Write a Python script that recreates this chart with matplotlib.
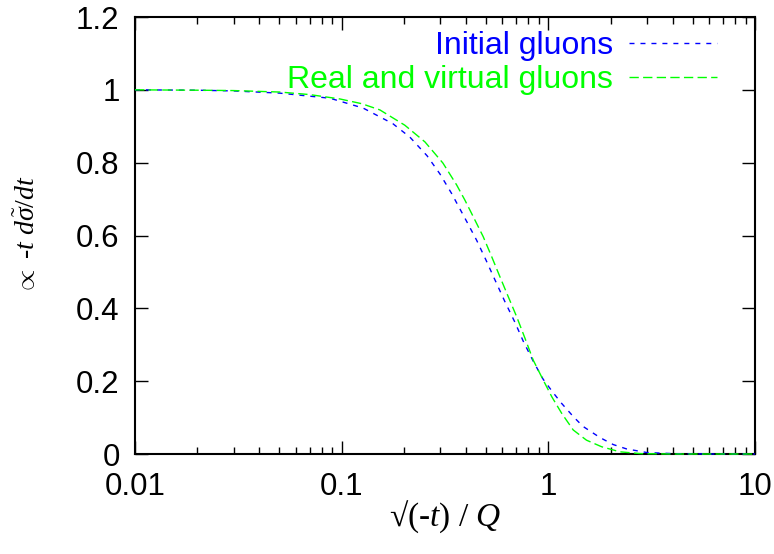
import numpy as np
import matplotlib

matplotlib.use("Agg")
import matplotlib.pyplot as plt
from matplotlib.ticker import FixedLocator, LogLocator, NullFormatter

plt.rcParams.update({"font.family": "Liberation Sans", "font.size": 22.5,
                     "mathtext.fontset": "custom",
                     "mathtext.rm": "Liberation Serif",
                     "mathtext.it": "Liberation Serif:italic",
                     "lines.scale_dashes": False})

# values
x_initial = [0.01, 0.02, 0.03, 0.05, 0.0878, 0.127, 0.177, 0.214, 0.259, 0.299,
             0.340, 0.405, 0.450, 0.499, 0.552, 0.617, 0.689, 0.756, 0.845, 0.945,
             1.057, 1.16, 1.32, 1.47, 1.78, 2.06, 2.39, 3.0, 4.0, 6.0, 10.0]
y_initial = [1.0, 0.999, 0.997, 0.991, 0.977, 0.950, 0.907, 0.870, 0.819, 0.769,
             0.716, 0.636, 0.587, 0.533, 0.478, 0.418, 0.362, 0.310, 0.255, 0.205,
             0.168, 0.139, 0.103, 0.076, 0.045, 0.026, 0.014, 0.004, 0.001, 0.0, 0.0]

x_real = [0.01, 0.02, 0.03, 0.05, 0.07, 0.098, 0.125, 0.153, 0.202, 0.253, 0.309,
          0.360, 0.395, 0.433, 0.484, 0.532, 0.583, 0.640, 0.703, 0.771, 0.845,
          0.945, 1.04, 1.16, 1.32, 1.53, 1.81, 2.22, 2.8, 4.0, 6.0, 10.0]
y_real = [1.0, 0.999, 0.998, 0.994, 0.987, 0.975, 0.962, 0.945, 0.903, 0.857, 0.799,
          0.739, 0.697, 0.652, 0.597, 0.542, 0.487, 0.432, 0.377, 0.318, 0.258,
          0.203, 0.157, 0.112, 0.066, 0.038, 0.020, 0.006, 0.001, 0.0, 0.0, 0.0]

xticks = [0.01, 0.1, 1, 10]
xticklabels = ["0.01", "0.1", "1", "10"]
yticks = [0, 0.2, 0.4, 0.6, 0.8, 1.0, 1.2]
yticklabels = ["0", "0.2", "0.4", "0.6", "0.8", "1", "1.2"]

fig = plt.figure(figsize=(7.74, 5.54), dpi=100)
ax = fig.add_axes([0.1744, 0.1805, 0.801, 0.7888])

ax.plot(x_initial, y_initial, color="#0000ff", lw=1.0, dashes=(3.6, 4.3),
        label="Initial gluons", zorder=3, clip_on=False)
ax.plot(x_real, y_real, color="#00ff00", lw=1.0, dashes=(6.7, 3.1),
        label="Real and virtual gluons", zorder=3, clip_on=False)

ax.set_xscale("log")
ax.set_xlim(0.01, 10)
ax.set_ylim(0, 1.2)
ax.xaxis.set_major_locator(FixedLocator(xticks))
ax.set_xticklabels(xticklabels)
ax.xaxis.set_minor_locator(LogLocator(base=10, subs=np.arange(2, 10)))
ax.xaxis.set_minor_formatter(NullFormatter())
ax.set_yticks(yticks)
ax.set_yticklabels(yticklabels)

ax.tick_params(which="both", direction="in", top=True, right=True, width=1.0)
ax.tick_params(which="major", length=9.4)
ax.tick_params(which="minor", length=5)
ax.tick_params(axis="x", pad=13)
ax.tick_params(axis="y", pad=11)
for s in ax.spines.values():
    s.set_linewidth(1.5)

ax.set_xlabel("\u221a(-$t$) / $Q$", family="Liberation Serif", fontsize=24)
ax.set_ylabel(r"$\propto$ -$t$ $d\tilde{\sigma}/dt$", family="Liberation Serif",
              fontsize=20)
ax.xaxis.set_label_coords(0.5, -0.102)
ax.yaxis.set_label_coords(-0.152, 0.5)

leg = ax.legend(loc="upper right", bbox_to_anchor=(0.9387, 0.968),
                frameon=False, markerfirst=False, handlelength=2.75,
                handletextpad=0.5, labelspacing=0.12, borderpad=0,
                borderaxespad=0, labelcolor="linecolor", fontsize=23)

fig.savefig("out.png", dpi=100)
